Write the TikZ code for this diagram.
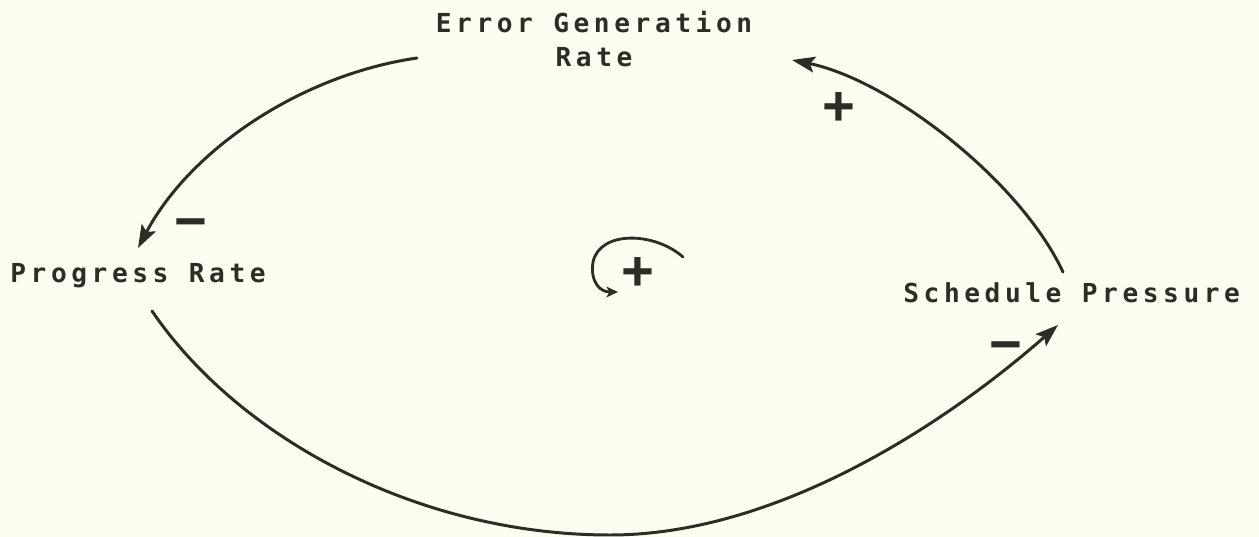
\documentclass[tikz,border=0pt]{standalone}
\usepackage{fontspec}
\usetikzlibrary{arrows.meta}
\newfontfamily\plotfont{DejaVu Sans Mono}[LetterSpace=17.5]
\newfontfamily\signfont{Liberation Sans}
\definecolor{paper}{RGB}{253,253,242}
\definecolor{ink}{RGB}{45,45,38}
\tikzset{
  label text/.style={font=\plotfont\bfseries\fontsize{14.9pt}{19.85pt}\selectfont, text=ink, inner sep=0pt},
  signtext/.style={font=\signfont\bfseries\fontsize{32pt}{32pt}\selectfont, text=ink, inner sep=0pt, anchor=base},
  link/.style={draw=ink, line width=1.7pt, line cap=round, -{Stealth[length=13pt,width=9pt,inset=2.5pt]}},
  smalllink/.style={draw=ink, line width=1.6pt, line cap=round, -{Stealth[length=6.5pt,width=6pt,inset=1.5pt]}}
}
\begin{document}
\begin{tikzpicture}[x=0.02cm, y=-0.02cm]
\fill[paper] (0,0) rectangle (1259,537);
\useasboundingbox (0,0) rectangle (1259,537);
% labels
\node[label text, anchor=base, align=center] (err) at (594,67) {Error Generation\\Rate};
\node[label text, anchor=base west] (prog) at (10,282) {Progress Rate};
\node[label text, anchor=base west] (sched) at (903,302) {Schedule Pressure};
% connector end points
\coordinate (a1s) at (417,58);
\coordinate (a1e) at (138,248);
\coordinate (a2s) at (1063,272);
\coordinate (a2e) at (792,60);
\coordinate (a3s) at (152,311);
\coordinate (a3m) at (610,535);
\coordinate (a3e) at (1058,325);
\coordinate (l0) at (683,257);
\coordinate (l1) at (593,262);
\coordinate (l2) at (618,292);
% connectors
\draw[link] (a1s) .. controls (300,75) and (190,150) .. (a1e);
\draw[link] (a2s) .. controls (1020,180) and (890,80) .. (a2e);
\draw[link] (a3s) .. controls (240,440) and (420,535) .. (a3m)
                  .. controls (780,535) and (950,420) .. (a3e);
\draw[smalllink] (l0) .. controls (655,232) and (600,230) .. (l1)
                  .. controls (590,282) and (600,292) .. (l2);
% polarity signs
\node[signtext] (m1) at (191,240) {−};
\node[signtext] (p1) at (839,126) {+};
\node[signtext] (m2) at (1006,363) {−};
\node[signtext] (p0) at (638,291) {+};
\end{tikzpicture}
\end{document}
